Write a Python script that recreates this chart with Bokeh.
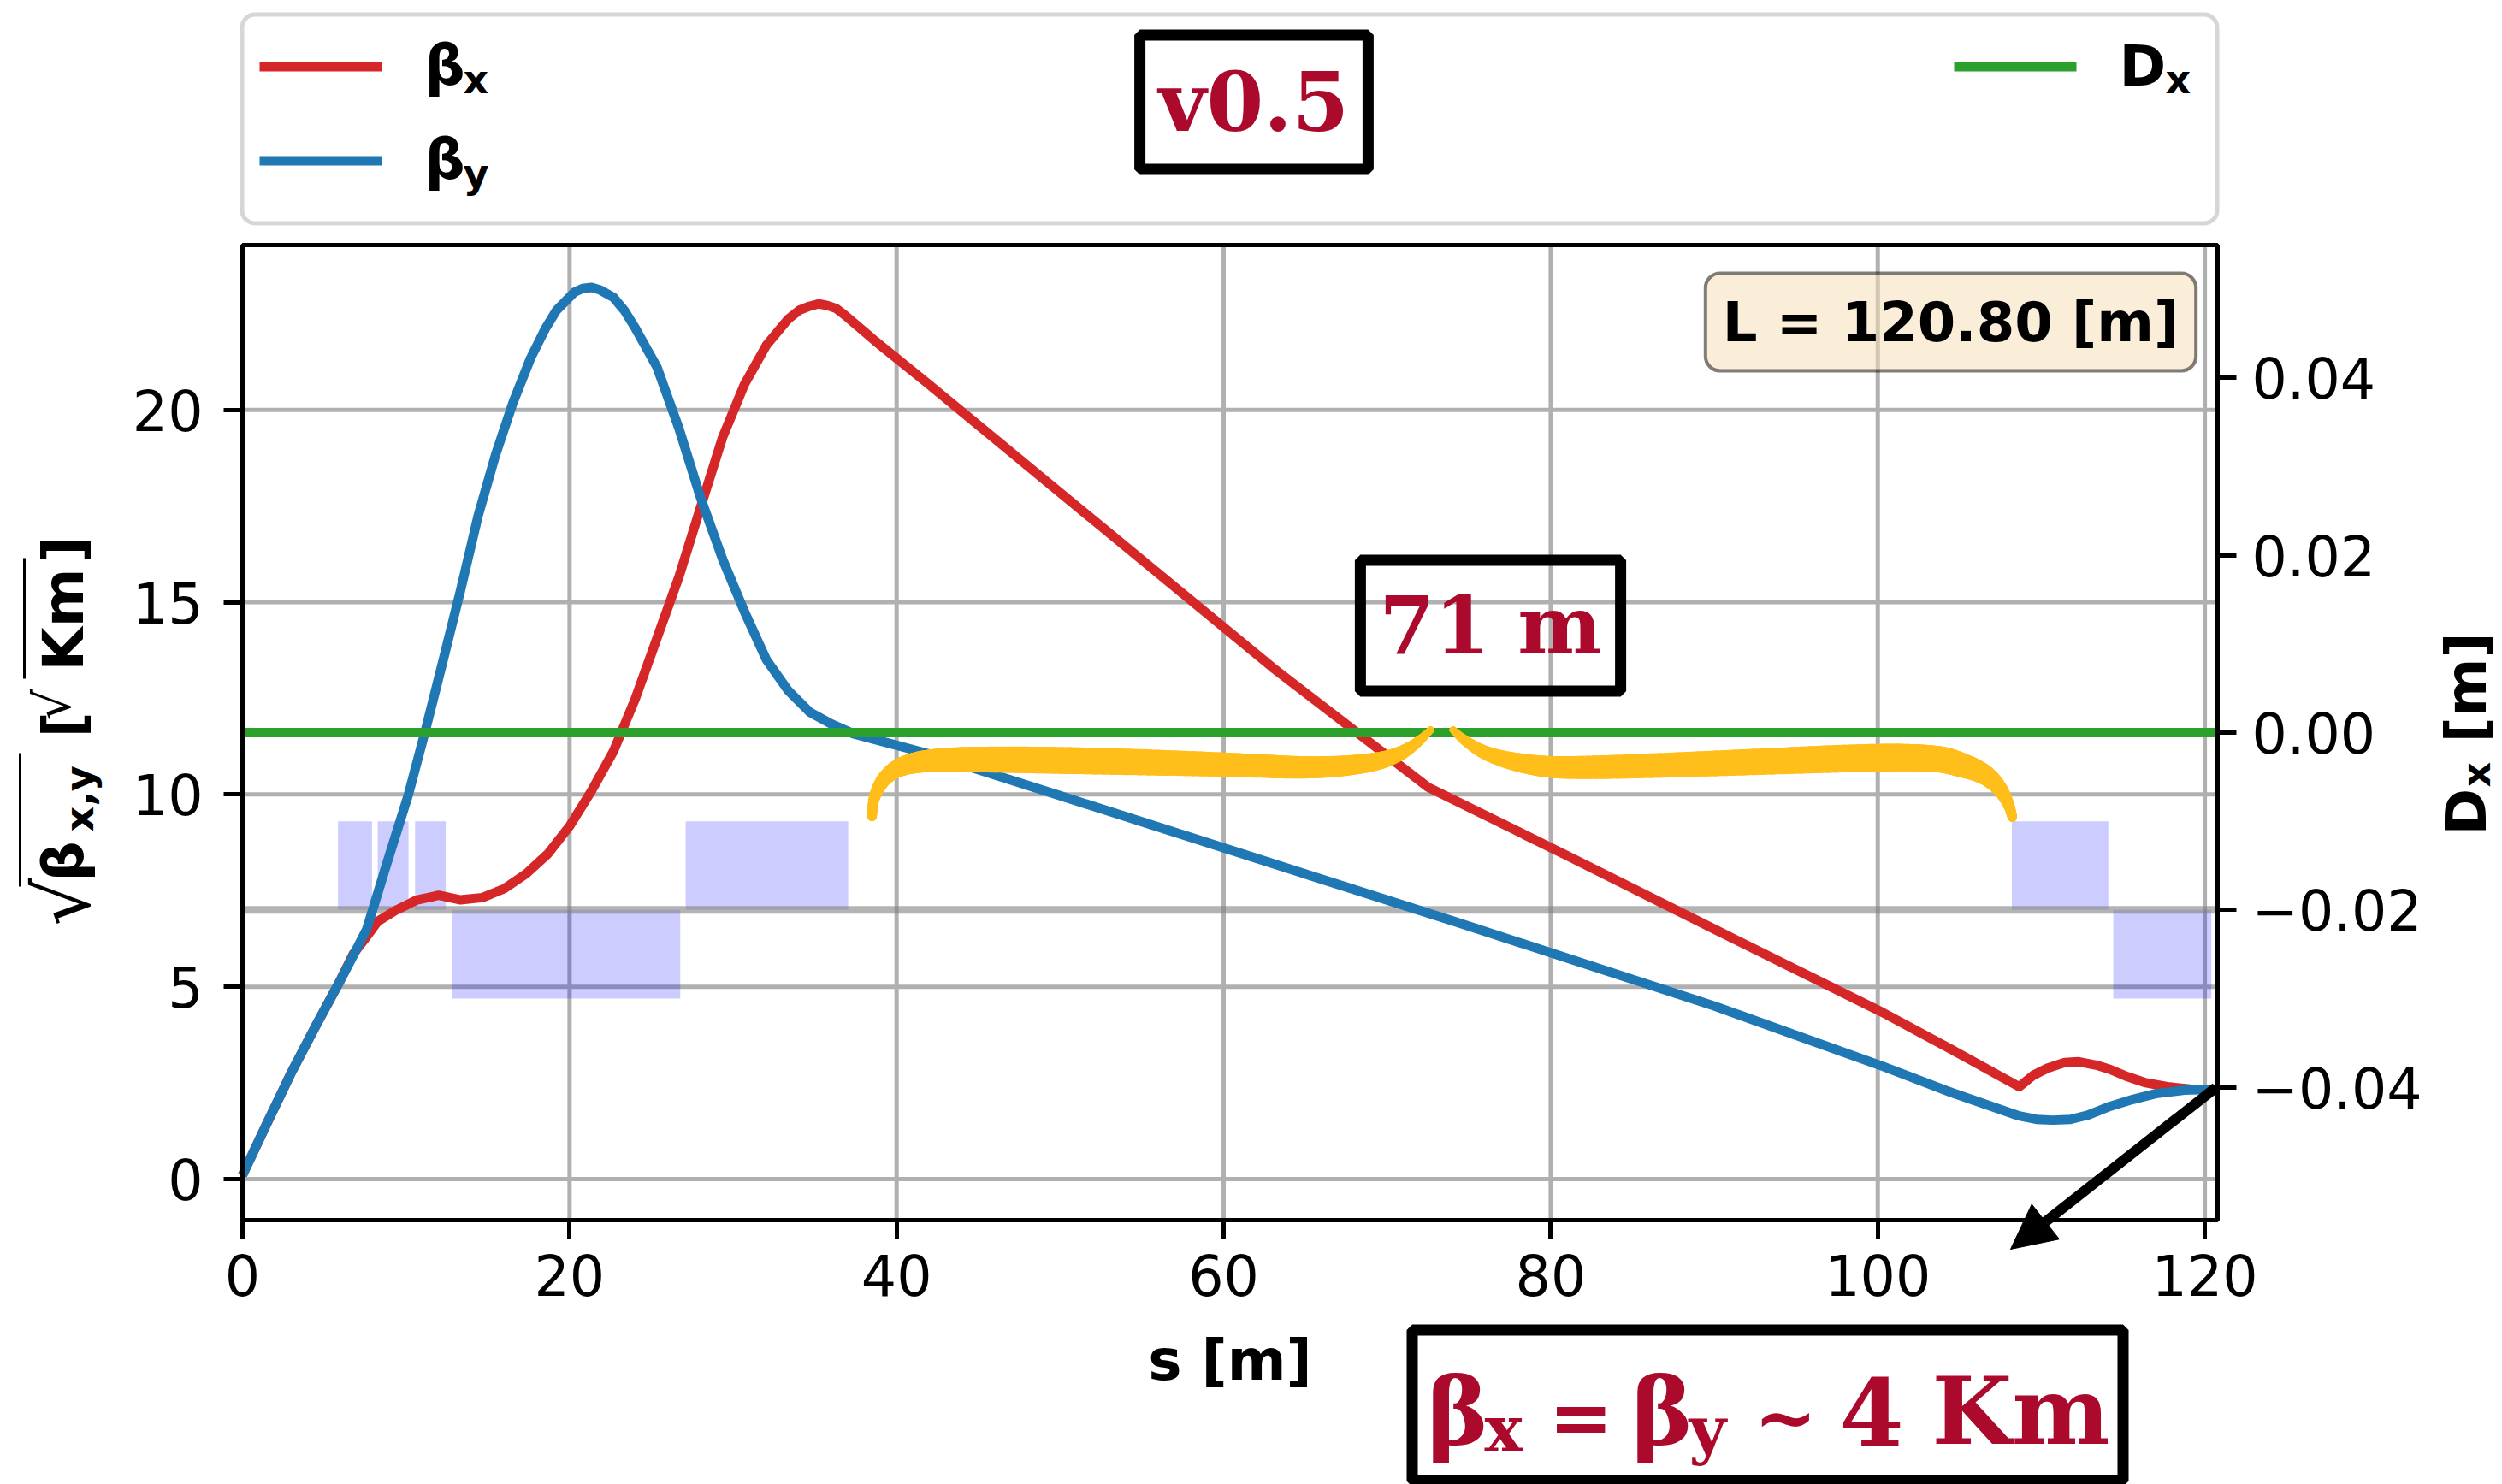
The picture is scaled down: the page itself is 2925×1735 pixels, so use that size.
import numpy as np
from bokeh.plotting import figure
from bokeh.models import (Range1d, LinearAxis, FixedTicker, CustomJSTickFormatter,
                          Label, BoxAnnotation, Arrow, NormalHead)
from bokeh.embed import file_html
from bokeh.resources import INLINE

# ---------------- data ----------------
S_BX = [0.0, 1.5, 3.0, 4.5, 5.9, 6.77, 7.5, 8.27, 9.34, 10.68, 12.0, 13.34, 14.68, 16.0,
        17.35, 18.68, 20.02, 21.35, 22.68, 24.02, 25.35, 26.69, 28.02, 29.36, 30.69,
        32.03, 33.36, 34.03, 34.69, 35.23, 35.76, 36.3, 36.83, 38.7, 41.85, 50.0, 63.0,
        72.5, 81.0, 90.0, 100.3, 104.5, 108.65, 109.52, 110.39, 111.43, 112.3, 113.36,
        114.2, 115.27, 116.32, 117.7, 119.1, 120.8]
BX = [0.1, 1.45, 2.78, 4.0, 5.1, 5.85, 6.25, 6.7, 6.98, 7.26, 7.38, 7.26, 7.32, 7.55,
      7.94, 8.46, 9.19, 10.10, 11.12, 12.49, 14.07, 15.66, 17.48, 19.29, 20.66,
      21.68, 22.36, 22.59, 22.7, 22.76, 22.72, 22.64, 22.47, 21.79, 20.71, 17.85, 13.3,
      10.19, 8.41, 6.5, 4.33, 3.37, 2.40, 2.70, 2.885, 3.03, 3.05, 2.96,
      2.85, 2.66, 2.51, 2.40, 2.34, 2.33]

S_BY = [0.0, 1.5, 3.0, 4.5, 5.9, 6.7, 7.6, 8.8, 10.14, 11.2, 12.28, 13.34, 14.41, 15.48,
        16.55, 17.61, 18.5, 19.2, 20.28, 20.8, 21.35, 21.88, 22.68, 23.35, 24.02, 25.35,
        26.69, 28.02, 29.36, 30.69, 32.03, 33.36, 34.69, 36.03, 37.36, 41.85, 50.0, 60.0,
        74.1, 90.0, 100.3, 104.5, 108.65, 109.7, 110.7, 111.78, 112.83, 114.2, 115.6,
        117.0, 118.75, 120.8]
BY = [0.1, 1.45, 2.78, 4.0, 5.1, 5.75, 6.5, 8.17, 9.99, 11.69, 13.51, 15.32, 17.25, 18.84,
      20.2, 21.34, 22.1, 22.59, 23.06, 23.16, 23.19, 23.12, 22.93, 22.59, 22.13, 21.11,
      19.52, 17.71, 16.12, 14.76, 13.51, 12.71, 12.14, 11.83, 11.58, 11.07, 9.97, 8.61,
      6.70, 4.5, 2.93, 2.25, 1.64, 1.55, 1.53, 1.55, 1.66, 1.89, 2.07,
      2.22, 2.31, 2.34]

S_DX = [0.0, 120.8]
DX = [0.0, 0.0]

EL_START = [5.84, 8.27, 10.55, 12.8, 27.1, 108.2, 114.4]
EL_END = [7.92, 10.15, 12.43, 26.77, 37.04, 114.1, 120.4]
EL_SIGN = [1, 1, 1, -1, 1, 1, -1]
EL_BASE = -0.02
EL_HEIGHT = 0.01

X_TICKS = [0, 20, 40, 60, 80, 100, 120]
Y_TICKS = [0, 5, 10, 15, 20]
DX_TICKS = [-0.04, -0.02, 0.0, 0.02, 0.04]
L_TOTAL = 120.80

# curly brace (annotation): centre-line knots and stroke widths
BRACE_L_S = [38.50, 38.55, 38.87, 39.44, 40.33, 41.69, 44.31, 51.63, 60.84, 65.54, 69.05, 70.72, 71.87, 72.66]
BRACE_L_V = [9.43, 9.81, 10.19, 10.52, 10.75, 10.88, 10.92, 10.88, 10.77, 10.68, 10.81, 11.03, 11.35, 11.68]
BRACE_L_W = [11, 12, 15, 18, 22, 26, 30, 32, 28, 26, 22, 17, 12, 8]
BRACE_R_S = [74.02, 74.75, 76.22, 78.83, 81.34, 90.34, 99.70, 103.68, 104.99, 106.45, 107.45, 108.02, 108.23]
BRACE_R_V = [11.68, 11.39, 11.01, 10.75, 10.68, 10.81, 10.97, 10.95, 10.79, 10.57, 10.19, 9.74, 9.41]
BRACE_R_W = [8, 12, 17, 24, 27, 30, 33, 31, 29, 24, 18, 13, 11]

# ---------------- layout ----------------
W, H = 2925, 1735
FRAME_L, FRAME_R, FRAME_T, FRAME_B = 283, 2592, 286, 1426   # axes box on the canvas
X_MIN, X_MAX = 0.0, 120.78
Y_MIN, Y_MAX = -1.07, 24.29
DX_MIN, DX_MAX = -0.055, 0.055

RED, BLUE, GREEN = "#d62728", "#1f77b4", "#2ca02c"
DARKRED = "#ac0a2c"
GOLD = "#ffbe1a"
GRID = "#b0b0b0"
MID = 0.35   # distance (in em) from alphabetic baseline to the text box middle


def sx(X):
    return X_MIN + (X - FRAME_L) * (X_MAX - X_MIN) / (FRAME_R - FRAME_L)


def sy(Y):
    return Y_MIN + (FRAME_B - Y) * (Y_MAX - Y_MIN) / (FRAME_B - FRAME_T)


def sdx(Y):
    return DX_MIN + (FRAME_B - Y) * (DX_MAX - DX_MIN) / (FRAME_B - FRAME_T)


p = figure(width=W, height=H, output_backend="svg", toolbar_location=None,
           x_axis_type=None, y_axis_type=None,
           x_range=Range1d(sx(0), sx(W)), y_range=Range1d(sy(H), sy(0)),
           min_border=0)
p.extra_y_ranges = {"dx": Range1d(sdx(H), sdx(0))}
p.background_fill_color = "white"
p.border_fill_color = "white"
p.outline_line_color = None

# ---------------- axes ----------------
xax = LinearAxis(ticker=FixedTicker(ticks=X_TICKS), fixed_location=Y_MIN,
                 bounds=(X_MIN, X_MAX))
yax = LinearAxis(ticker=FixedTicker(ticks=Y_TICKS), fixed_location=X_MIN,
                 bounds=(Y_MIN, Y_MAX))
dxax = LinearAxis(y_range_name="dx", ticker=FixedTicker(ticks=DX_TICKS),
                  fixed_location=X_MAX, bounds=(DX_MIN, DX_MAX),
                  formatter=CustomJSTickFormatter(
                      code="const t = Math.abs(tick) < 1e-12 ? 0 : tick; return t.toFixed(2).replace('-', '\u2212');"))
p.add_layout(xax, "below")
p.add_layout(yax, "left")
p.add_layout(dxax, "right")

for ax in [xax, yax, dxax]:
    ax.axis_line_color = None
    ax.major_tick_line_color = "black"
    ax.major_tick_line_width = 5
    ax.major_tick_out = 22
    ax.major_tick_in = 0
    ax.minor_tick_line_color = None
    ax.major_label_text_font = "DejaVu Sans"
    ax.major_label_text_font_size = "65px"
    ax.major_label_text_color = "black"

xax.major_label_standoff = 17
yax.major_label_standoff = 24
dxax.major_label_standoff = 18

xax.axis_label = "s [m]"
xax.axis_label_text_font = "DejaVu Sans"
xax.axis_label_text_font_style = "bold"
xax.axis_label_text_font_size = "66px"
xax.axis_label_text_color = "black"
xax.axis_label_standoff = 34

# ---------------- grid ----------------
p.segment(x0=X_TICKS, y0=[Y_MIN] * len(X_TICKS), x1=X_TICKS, y1=[Y_MAX] * len(X_TICKS),
          line_color=GRID, line_width=5)
p.segment(x0=[X_MIN] * len(Y_TICKS), y0=Y_TICKS, x1=[X_MAX] * len(Y_TICKS), y1=Y_TICKS,
          line_color=GRID, line_width=5)

# ---------------- glyphs ----------------
el_bottom = [EL_BASE if k > 0 else EL_BASE - EL_HEIGHT for k in EL_SIGN]
el_top = [EL_BASE + EL_HEIGHT if k > 0 else EL_BASE for k in EL_SIGN]
p.quad(left=EL_START, right=EL_END, bottom=el_bottom, top=el_top, y_range_name="dx",
       fill_color="blue", fill_alpha=0.2, line_color=None)
p.line([X_MIN, X_MAX], [EL_BASE, EL_BASE], y_range_name="dx", line_color="gray",
       line_alpha=0.6, line_width=9)

p.line(S_BX, BX, line_color=RED, line_width=11, line_join="round")
p.line(S_BY, BY, line_color=BLUE, line_width=11, line_join="round")
p.line(S_DX, DX, y_range_name="dx", line_color=GREEN, line_width=11)


def chaikin(xs, ys, ws, n=3):
    pts = np.column_stack([xs, ys, ws]).astype(float)
    for _ in range(n):
        q = 0.75 * pts[:-1] + 0.25 * pts[1:]
        r = 0.25 * pts[:-1] + 0.75 * pts[1:]
        new = np.empty((2 * len(q), 3))
        new[0::2] = q
        new[1::2] = r
        pts = np.vstack([pts[:1], new, pts[-1:]])
    return pts


for bs, bv, bw in [(BRACE_L_S, BRACE_L_V, BRACE_L_W), (BRACE_R_S, BRACE_R_V, BRACE_R_W)]:
    pts = chaikin(bs, bv, bw, 4)
    p.segment(x0=pts[:-1, 0], y0=pts[:-1, 1], x1=pts[1:, 0], y1=pts[1:, 1],
              line_width=0.5 * (pts[:-1, 2] + pts[1:, 2]), line_color=GOLD, line_cap="round")

# axes frame
p.quad(left=X_MIN, right=X_MAX, bottom=Y_MIN, top=Y_MAX, fill_color=None,
       line_color="black", line_width=5)


# ---------------- annotations ----------------
def add_text(X, Y, text, size, font="DejaVu Sans", style="bold", color="black",
             rotated=False, align="left"):
    """(X, Y): canvas position of the start of the text on its alphabetic baseline."""
    if rotated:
        X = X - MID * size
    else:
        Y = Y - MID * size
    p.add_layout(Label(x=sx(X), y=sy(Y), text=text, text_font=font,
                       text_font_size=f"{size}px", text_font_style=style,
                       text_color=color, angle=(np.pi / 2 if rotated else 0.0),
                       text_align=align, text_baseline="middle"))


def add_box(X0, Y0, X1, Y1, fill="white", fill_alpha=1.0, line=None, lw=0,
            line_alpha=1.0, radius=0):
    p.add_layout(BoxAnnotation(left=sx(X0), right=sx(X1), top=sy(Y0), bottom=sy(Y1),
                               fill_color=fill, fill_alpha=fill_alpha, line_color=line,
                               line_width=lw, line_alpha=line_alpha, border_radius=radius))


# legend
add_box(282.5, 16.5, 2591.5, 260.5, fill="white", fill_alpha=0.8, line="#cccccc",
        lw=5, line_alpha=0.8, radius=15)
add_box(303, 72, 446, 83, fill=RED, line=None)
add_box(303, 182, 446, 193, fill=BLUE, line=None)
add_box(2284, 72, 2427, 83, fill=GREEN, line=None)
add_text(496, 99, "β", 66)
add_text(541, 109, "x", 46)
add_text(496, 209, "β", 66)
add_text(541, 219, "y", 46)
add_text(2477, 100, "D", 66)
add_text(2531, 109, "x", 46)

# version box
p.add_layout(Label(x=sx(1465.5), y=sy(119), text="v0.5", text_font="DejaVu Serif",
                   text_font_size="96px", text_font_style="bold", text_color=DARKRED,
                   text_align="center", text_baseline="middle",
                   background_fill_color="white", border_line_color="black",
                   border_line_width=13, padding=22))

# L box
p.add_layout(Label(x=sx(2280), y=sy(376), text="L = %.2f [m]" % L_TOTAL,
                   text_font="DejaVu Sans", text_font_size="64px", text_font_style="bold",
                   text_color="black", text_align="center", text_baseline="middle",
                   background_fill_color="wheat", background_fill_alpha=0.5,
                   border_line_color="black", border_line_alpha=0.5, border_line_width=4,
                   padding=20, border_radius=17))

# 71 m box
p.add_layout(Label(x=sx(1742), y=sy(731), text="71 m", text_font="DejaVu Serif",
                   text_font_size="93px", text_font_style="bold", text_color=DARKRED,
                   text_align="center", text_baseline="middle",
                   background_fill_color=None, border_line_color="black",
                   border_line_width=13, padding=22))

# arrow
p.add_layout(Arrow(end=NormalHead(size=52, fill_color="black", line_color="black"),
                   x_start=sx(2590), y_start=sy(1271), x_end=sx(2350), y_end=sy(1460),
                   line_color="black", line_width=12))

# bottom box  beta_x = beta_y ~ 4 Km
add_box(1650.5, 1554.5, 2481.5, 1731, fill="white", line="black", lw=13)
add_text(1668, 1687, "β", 108, font="DejaVu Serif", color=DARKRED)
add_text(1735, 1697, "x", 75, font="DejaVu Serif", color=DARKRED)
add_text(1810, 1687, "=", 90, font="DejaVu Serif", color=DARKRED)
add_text(1907, 1687, "β", 108, font="DejaVu Serif", color=DARKRED)
add_text(1974, 1697, "y", 75, font="DejaVu Serif", color=DARKRED)
add_text(2050, 1687, "~", 88, font="DejaVu Serif", color=DARKRED)
add_text(2150, 1687, "4", 108, font="DejaVu Serif", color=DARKRED)
add_text(2258, 1687, "Km", 108, font="DejaVu Serif", color=DARKRED)

# left y label  sqrt(beta_x,y) [sqrt(Km)]
add_text(104, 1082, "√", 88, style="normal", rotated=True)
add_box(21.5, 880, 24.5, 1036, fill="black", line=None)
add_text(97, 1030, "β", 66, rotated=True)
add_text(109, 972, "x,y", 46, rotated=True)
add_text(97, 862, "[", 66, rotated=True)
add_text(82, 842, "√", 58, style="normal", rotated=True)
add_box(26.5, 652, 29.5, 793, fill="black", line=None)
add_text(97, 784, "Km", 66, rotated=True)
add_text(97, 657, "]", 66, rotated=True)

# right y label  D_x [m]
add_text(2906, 976, "D", 66, rotated=True)
add_text(2911, 920, "x", 46, rotated=True)
add_text(2906, 868, "[m]", 66, rotated=True)

open("out.html", "w").write(file_html(p, INLINE))
